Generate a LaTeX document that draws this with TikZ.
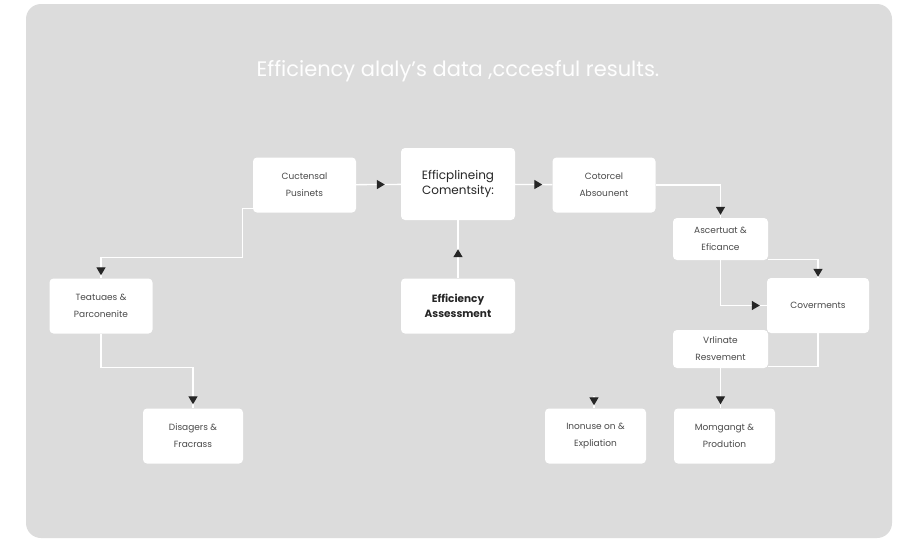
\documentclass[tikz,border=0pt]{standalone}
\usepackage{fontspec}
\setmainfont{Poppins}
\usetikzlibrary{arrows.meta,decorations.markings}
\definecolor{panel}{HTML}{DCDCDC}
\definecolor{boxtext}{HTML}{4A4A4A}
\begin{document}
\begin{tikzpicture}[x=1pt, y=-1pt,
   box/.style={draw=none, fill=white, rounded corners=4pt, align=center,
      text=boxtext, font=\fontsize{9}{17}\selectfont,
      minimum width=103pt, minimum height=55pt, inner sep=0pt},
   big/.style={font=\fontsize{12}{15.5}\selectfont, text=black!85},
   lnk/.style={draw=white, line width=1.3pt},
   headat/.style={postaction={decorate}, decoration={markings,
      mark=at position #1 with {\arrow{Triangle[length=8pt,width=9pt,color=black!85,fill=black!85]}}}}]

\useasboundingbox (0,0) rectangle (905,539);
\fill[white] (0,0) rectangle (905,539);
\fill[panel, rounded corners=15pt] (26,4) rectangle (892,538);

\node[text=white!96!panel, font=\fontsize{21}{24}\selectfont] (title) at (458,71)
   {Efficiency alaly's data ,cccesful results.};

\node[box] (cuc) at (304.5,185) {Cuctensal\\Pusinets};
\node[box, big, minimum width=114pt, minimum height=72pt] (eff) at (458,184)
   {Efficplineing\\Comentsity:};
\node[box] (cot) at (604,185) {Cotorcel\\Absounent};
\node[box, big, font=\fontsize{10.5}{15}\selectfont\bfseries, minimum width=114pt] (ass) at (458,306)
   {Efficiency\\Assessment};
\node[box] (tea) at (101,306) {Teatuaes \&\\Parconenite};
\node[box, minimum width=100pt] (dis) at (193,436) {Disagers \&\\Fracrass};
\node[box, minimum width=95pt, minimum height=42pt] (asc) at (720.5,239) {Ascertuat \&\\Eficance};
\node[box, minimum width=102pt] (cov) at (818,305.5) {Coverments};
\node[box, minimum width=95pt, minimum height=38pt] (vrl) at (720.5,349) {Vrlinate\\Resvement};
\node[box, minimum width=101pt] (ino) at (595.5,436) {Inonuse on \&\\Expliation};
\node[box, minimum width=101pt] (mom) at (724.5,436) {Momgangt \&\\Prodution};
\coordinate (inotop) at (594,396);

\draw[lnk, headat=-16pt] (cuc) -- (eff);
\draw[lnk, headat=-10pt] (eff) -- (cot);
\draw[lnk, headat=-29pt] (ass) -- (eff);
\draw[lnk, headat=-3pt] ([yshift=4pt]cuc.south west) -- ++(-10,0) -- ++(0,49) -| (tea.north);
\draw[lnk, headat=-4pt] (tea.south) -- ++(0,34) -| (dis.north);
\draw[lnk, headat=-3pt] (cot.east) -| (asc.north);
\draw[lnk, headat=-1pt] ([yshift=1pt]asc.south east) -| (cov.north);
\draw[lnk, headat=-7pt] (asc.south) |- (cov.west);
\draw[lnk] (cov.south) |- ([yshift=2pt]vrl.south east);
\draw[lnk, headat=-4pt] (vrl.south) -- (vrl.south |- mom.north);
\draw[lnk, headat=-3pt] (inotop) -- (inotop |- ino.north);

\end{tikzpicture}
\end{document}
